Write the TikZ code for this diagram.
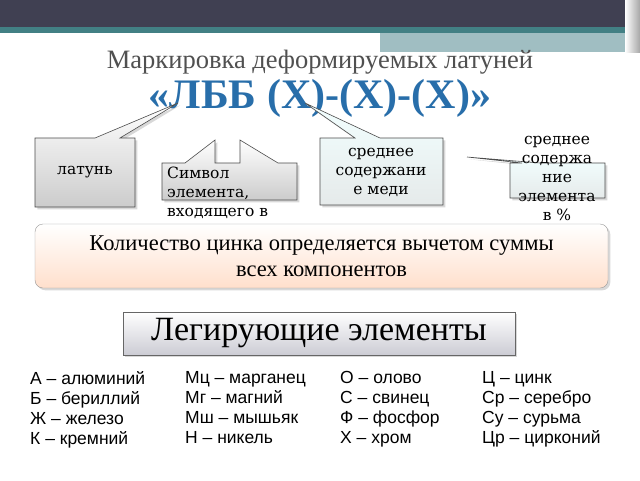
\documentclass[tikz,border=0pt]{standalone}
\usepackage{fontspec}
\setmainfont{Liberation Serif}
\newfontfamily\listfont{Liberation Sans}
\newfontfamily\callfont{DejaVu Serif}
\usetikzlibrary{positioning, shadows}
\definecolor{barDark}{RGB}{64,64,82}
\definecolor{barTeal}{RGB}{66,128,132}
\definecolor{barLight}{RGB}{160,190,194}
\definecolor{titleGrey}{RGB}{80,80,80}
\definecolor{markBlue}{RGB}{40,110,170}
\tikzset{
    callout/.style={draw=black!70, line width=0.6pt, drop shadow={opacity=0.3}},
    calltext/.style={font=\callfont\fontsize{15.5}{19}\selectfont, align=center, inner sep=0pt},
    listcol/.style={font=\listfont\fontsize{17.5}{20}\selectfont, align=left, anchor=north west, inner sep=0pt}
}
\begin{document}
\begin{tikzpicture}[x=1pt, y=-1pt]
\useasboundingbox (0,0) rectangle (640,480);
\fill[white] (0,0) rectangle (640,480);

% Top bars
\fill[barDark] (0,0) rectangle (625,27);
\fill[barTeal] (0,27) rectangle (625,33);
\fill[barLight] (380,33) rectangle (625,52);
\shade[left color=white, right color=black!35] (625,0) rectangle (640,52);

% Titles
\node (title) [text=titleGrey, font=\fontsize{26.5}{30}\selectfont] at (320,62) {Маркировка деформируемых латуней};
\node (mark) [text=markBlue, font=\bfseries\fontsize{42}{44}\selectfont] at (320,98) {«ЛББ (Х)-(Х)-(Х)»};

% Callouts
\draw[callout, top color=white, bottom color=black!20]
    (35,138) -- (95,138) -- (178,103) -- (120,138) -- (135,138) -- (135,207) -- (35,207) -- cycle;
\node (latun) [calltext] at (85,172) {латунь};

\draw[callout, top color=white, bottom color=black!20]
    (162,163) -- (185,163) -- (215,140) -- (215,163) -- (240,163) -- (240,140)
    -- (278,163) -- (297,163) -- (297,200) -- (162,200) -- cycle;
\node (symbol) [calltext, align=left, anchor=north west] at (167,167) {Символ\\элемента,\\входящего в};

\draw[callout, top color=cyan!5, bottom color=cyan!18!black!10]
    (320,138) -- (355,138) -- (305,103) -- (380,138) -- (443,138) -- (443,205) -- (320,205) -- cycle;
\node (medi) [calltext] at (381,172) {среднее\\содержани\\е меди};

\draw[callout, top color=cyan!5, bottom color=cyan!18!black!10]
    (510,163) -- (522,163) -- (467,157) -- (540,163) -- (605,163) -- (605,198) -- (510,198) -- cycle;
\node (element) [calltext, anchor=north] at (557,136) {среднее\\содержа\\ние\\элемента\\в \%};

% Zinc note
\node (zinc) [draw=black!40, rounded corners=8pt, top color=white, bottom color=red!25!orange!20,
    minimum width=573pt, minimum height=64pt, align=center, drop shadow={opacity=0.3},
    font=\fontsize{22.5}{26}\selectfont] at (321.5,256)
    {Количество цинка определяется вычетом суммы\\всех компонентов};

% Alloying header
\node (alloy) [draw=black!60, top color=white, bottom color=blue!15!black!20,
    minimum width=392pt, minimum height=43pt, drop shadow={opacity=0.3},
    font=\fontsize{34}{36}\selectfont] at (319,333.5) {Легирующие элементы};

% Element lists
\node (colA) [listcol] at (30,371) {А – алюминий\\Б – бериллий\\Ж – железо\\К – кремний};
\node (colB) [listcol] at (185,371) {Мц – марганец\\Мг – магний\\Мш – мышьяк\\Н – никель};
\node (colC) [listcol] at (340,371) {О – олово\\С – свинец\\Ф – фосфор\\Х – хром};
\node (colD) [listcol] at (482,371) {Ц – цинк\\Ср – серебро\\Су – сурьма\\Цр – цирконий};
\end{tikzpicture}
\end{document}
